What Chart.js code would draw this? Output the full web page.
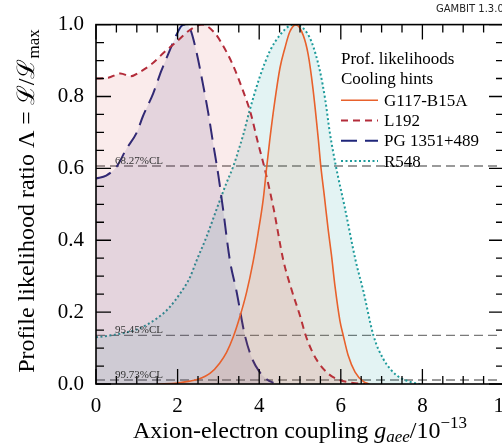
<!DOCTYPE html>
<html>
<head>
<meta charset="utf-8">
<script src="https://cdn.jsdelivr.net/npm/chart.js@4.4.0/dist/chart.umd.min.js"></script>
<style>
  html, body { margin: 0; padding: 0; background: #fff; overflow: hidden; }
  #wrap { width: 530px; height: 443px; }
</style>
</head>
<body>
<div id="wrap"><canvas id="myChart" width="530" height="443"></canvas></div>
<script>
// values (g_aee in 1e-13, likelihood ratio)
const g117X = [1.5, 2.0, 2.3, 2.5, 2.8, 3.03, 3.2, 3.36, 3.52, 3.69, 3.85, 3.97, 4.1, 4.18, 4.26, 4.38, 4.51, 4.63, 4.75, 4.9, 5.08, 5.2, 5.32, 5.45, 5.51, 5.6, 5.69, 5.77, 5.86, 5.98, 6.06, 6.18, 6.35, 6.55, 6.7];
const g117Y = [0.0, 0.003, 0.008, 0.013, 0.03, 0.058, 0.088, 0.13, 0.185, 0.255, 0.34, 0.418, 0.515, 0.6, 0.68, 0.785, 0.88, 0.935, 0.98, 1.0, 0.97, 0.917, 0.82, 0.68, 0.606, 0.52, 0.43, 0.36, 0.27, 0.175, 0.135, 0.08, 0.033, 0.007, 0.0];

const l192X = [0, 0.3, 0.6, 0.85, 1.1, 1.35, 1.7, 2.0, 2.3, 2.6, 2.9, 3.1, 3.35, 3.6, 3.8, 3.95, 4.12, 4.35, 4.59, 4.8, 5.0, 5.14, 5.3, 5.45, 5.7, 5.95, 6.3, 6.6];
const l192Y = [0.85, 0.852, 0.864, 0.856, 0.87, 0.889, 0.926, 0.955, 0.985, 1.0, 0.978, 0.944, 0.889, 0.817, 0.75, 0.68, 0.606, 0.49, 0.345, 0.26, 0.19, 0.135, 0.09, 0.06, 0.028, 0.012, 0.003, 0.0];

const pgX = [0, 0.25, 0.5, 0.75, 1.0, 1.15, 1.4, 1.6, 1.8, 1.97, 2.1, 2.2, 2.3, 2.45, 2.62, 2.75, 2.87, 3.0, 3.11, 3.28, 3.44, 3.65, 3.81, 4.0, 4.2, 4.35];
const pgY = [0.572, 0.58, 0.604, 0.655, 0.70, 0.745, 0.808, 0.871, 0.926, 0.971, 0.997, 1.0, 0.99, 0.93, 0.835, 0.755, 0.67, 0.58, 0.49, 0.345, 0.26, 0.135, 0.075, 0.035, 0.012, 0.003];

const r548X = [0, 0.5, 1.0, 1.5, 1.8, 2.05, 2.3, 2.46, 2.71, 3.0, 3.2, 3.36, 3.52, 3.6, 3.77, 4.01, 4.26, 4.51, 4.75, 4.9, 5.08, 5.28, 5.49, 5.62, 5.73, 5.88, 6.1, 6.37, 6.55, 6.8, 7.04, 7.37, 7.7, 7.95];
const r548Y = [0.13, 0.138, 0.152, 0.183, 0.213, 0.25, 0.296, 0.342, 0.41, 0.50, 0.56, 0.604, 0.66, 0.69, 0.763, 0.853, 0.926, 0.971, 0.997, 1.0, 0.99, 0.953, 0.87, 0.79, 0.70, 0.606, 0.49, 0.34, 0.26, 0.135, 0.07, 0.024, 0.006, 0.0];

const seriesNames = ['G117-B15A', 'L192', 'PG 1351+489', 'R548'];
const clLevels = [0.6065, 0.1353, 0.0111];
const clLabels = ['68.27%CL', '95.45%CL', '99.73%CL'];
const xRange = [0, 10];
const yRange = [0, 1];

const SERIF = '"Liberation Serif", "DejaVu Serif", serif';

function zip(xs, ys) {
    return xs.map((x, i) => ({ x: x, y: ys[i] }));
}

function curve(label, xs, ys, color, fill, dash, width) {
    return {
        label: label,
        data: zip(xs, ys),
        borderColor: color,
        backgroundColor: fill,
        borderWidth: width,
        borderDash: dash,
        fill: 'origin',
        pointRadius: 0,
        cubicInterpolationMode: 'monotone'
    };
}

const datasets = [
    curve(seriesNames[0], g117X, g117Y, '#e8612c', 'rgba(225,110,50,0.10)', [], 1.6),
    curve(seriesNames[1], l192X, l192Y, '#b32c3a', 'rgba(205,70,70,0.11)', [7, 5], 2),
    curve(seriesNames[2], pgX, pgY, '#1f267a', 'rgba(50,40,120,0.12)', [16, 8], 2),
    curve(seriesNames[3], r548X, r548Y, '#1d9b9b', 'rgba(0,150,150,0.11)', [2, 2.5], 2)
];

clLevels.forEach((lv, i) => {
    datasets.push({
        label: clLabels[i],
        data: [{ x: xRange[0], y: lv }, { x: xRange[1], y: lv }],
        borderColor: '#7a7a7a',
        borderWidth: 1.4,
        borderDash: [9, 5],
        fill: false,
        pointRadius: 0
    });
});

// inward ticks on all four sides + frame
const frameTicks = {
    id: 'frameTicks',
    afterDatasetsDraw(chart) {
        const { ctx, chartArea: a, scales } = chart;
        const x = scales.x, y = scales.y;
        ctx.save();
        ctx.strokeStyle = '#000';
        ctx.lineWidth = 1.6;
        ctx.strokeRect(a.left, a.top, a.right - a.left, a.bottom - a.top);
        ctx.lineWidth = 1.3;
        ctx.beginPath();
        for (let i = 0; i <= 20; i++) {
            const px = x.getPixelForValue(i * 0.5);
            const len = i % 4 === 0 ? 15 : 8;
            ctx.moveTo(px, a.bottom); ctx.lineTo(px, a.bottom - len);
            ctx.moveTo(px, a.top); ctx.lineTo(px, a.top + len);
        }
        for (let i = 0; i <= 20; i++) {
            const py = y.getPixelForValue(i * 0.05);
            const len = i % 4 === 0 ? 15 : 8;
            ctx.moveTo(a.left, py); ctx.lineTo(a.left + len, py);
            ctx.moveTo(a.right, py); ctx.lineTo(a.right - len, py);
        }
        ctx.stroke();
        ctx.restore();
    }
};

function drawParts(ctx, parts, cx, baseY) {
    let total = 0;
    parts.forEach(p => { ctx.font = p.font; total += ctx.measureText(p.text).width; });
    let pos = cx - total / 2;
    parts.forEach(p => {
        ctx.font = p.font;
        ctx.fillText(p.text, pos, baseY + (p.dy || 0));
        pos += ctx.measureText(p.text).width;
    });
}

const annotations = {
    id: 'annotations',
    afterDraw(chart) {
        const { ctx, chartArea: a, scales } = chart;
        const x = scales.x, y = scales.y;
        ctx.save();

        // CL labels
        ctx.fillStyle = '#333';
        ctx.font = '11px ' + SERIF;
        ctx.textBaseline = 'alphabetic';
        clLevels.forEach((lv, i) => {
            ctx.fillText(clLabels[i], a.left + 19, y.getPixelForValue(lv) - 2.5);
        });

        // legend
        const lx = a.left + 245;
        const rowH = 20.3;
        let ly = a.top + 35;
        ctx.fillStyle = '#000';
        ctx.font = '17px ' + SERIF;
        ctx.textBaseline = 'middle';
        ctx.fillText('Prof. likelihoods', lx, ly);
        ly += rowH;
        ctx.fillText('Cooling hints', lx, ly);
        for (let i = 0; i < 4; i++) {
            ly += rowH;
            const ds = chart.data.datasets[i];
            ctx.save();
            ctx.strokeStyle = ds.borderColor;
            ctx.lineWidth = ds.borderWidth;
            ctx.setLineDash(ds.borderDash);
            ctx.beginPath();
            ctx.moveTo(lx, ly);
            ctx.lineTo(lx + 37, ly);
            ctx.stroke();
            ctx.restore();
            ctx.fillText(ds.label, lx + 43, ly + 1);
        }

        // axis titles
        ctx.textBaseline = 'alphabetic';
        ctx.fillStyle = '#000';
        drawParts(ctx, [
            { text: 'Axion-electron coupling ', font: '24px ' + SERIF },
            { text: 'g', font: 'italic 24px ' + SERIF },
            { text: 'aee', font: 'italic 17px ' + SERIF, dy: 4 },
            { text: '/10', font: '24px ' + SERIF },
            { text: '\u221213', font: '17px ' + SERIF, dy: -10 }
        ], 300, 438);

        ctx.save();
        ctx.translate(34, 201);
        ctx.rotate(-Math.PI / 2);
        drawParts(ctx, [
            { text: 'Profile likelihood ratio \u039B = ', font: '24px ' + SERIF },
            { text: '\u2112/\u2112', font: '24px ' + SERIF },
            { text: 'max', font: '17px ' + SERIF, dy: 5 }
        ], 0, 0);
        ctx.restore();

        // version stamp
        ctx.fillStyle = '#222';
        ctx.font = '10px "DejaVu Sans", sans-serif';
        ctx.fillText('GAMBIT 1.3.0', 436, 12);
        ctx.restore();
    }
};

const tickFont = { family: SERIF, size: 21 };

const ctx = document.getElementById('myChart').getContext('2d');
const myChart = new Chart(ctx, {
    type: 'line',
    data: { datasets: datasets },
    options: {
        responsive: false,
        animation: false,
        devicePixelRatio: 1,
        layout: { padding: { top: 16, right: 26, left: 0, bottom: 0 } },
        plugins: {
            legend: { display: false },
            tooltip: { enabled: false }
        },
        scales: {
            x: {
                type: 'linear',
                min: xRange[0],
                max: xRange[1],
                ticks: { stepSize: 2, padding: 10, font: tickFont, color: '#000', maxRotation: 0 },
                grid: { display: false, drawTicks: false },
                border: { display: false },
                afterFit(scale) { scale.height = 59; }
            },
            y: {
                type: 'linear',
                min: yRange[0],
                max: yRange[1],
                ticks: {
                    stepSize: 0.2, padding: 12, font: tickFont, color: '#000',
                    callback: v => v.toFixed(1)
                },
                grid: { display: false, drawTicks: false },
                border: { display: false },
                afterFit(scale) { scale.width = 96; }
            }
        }
    },
    plugins: [frameTicks, annotations]
});
</script>
</body>
</html>
